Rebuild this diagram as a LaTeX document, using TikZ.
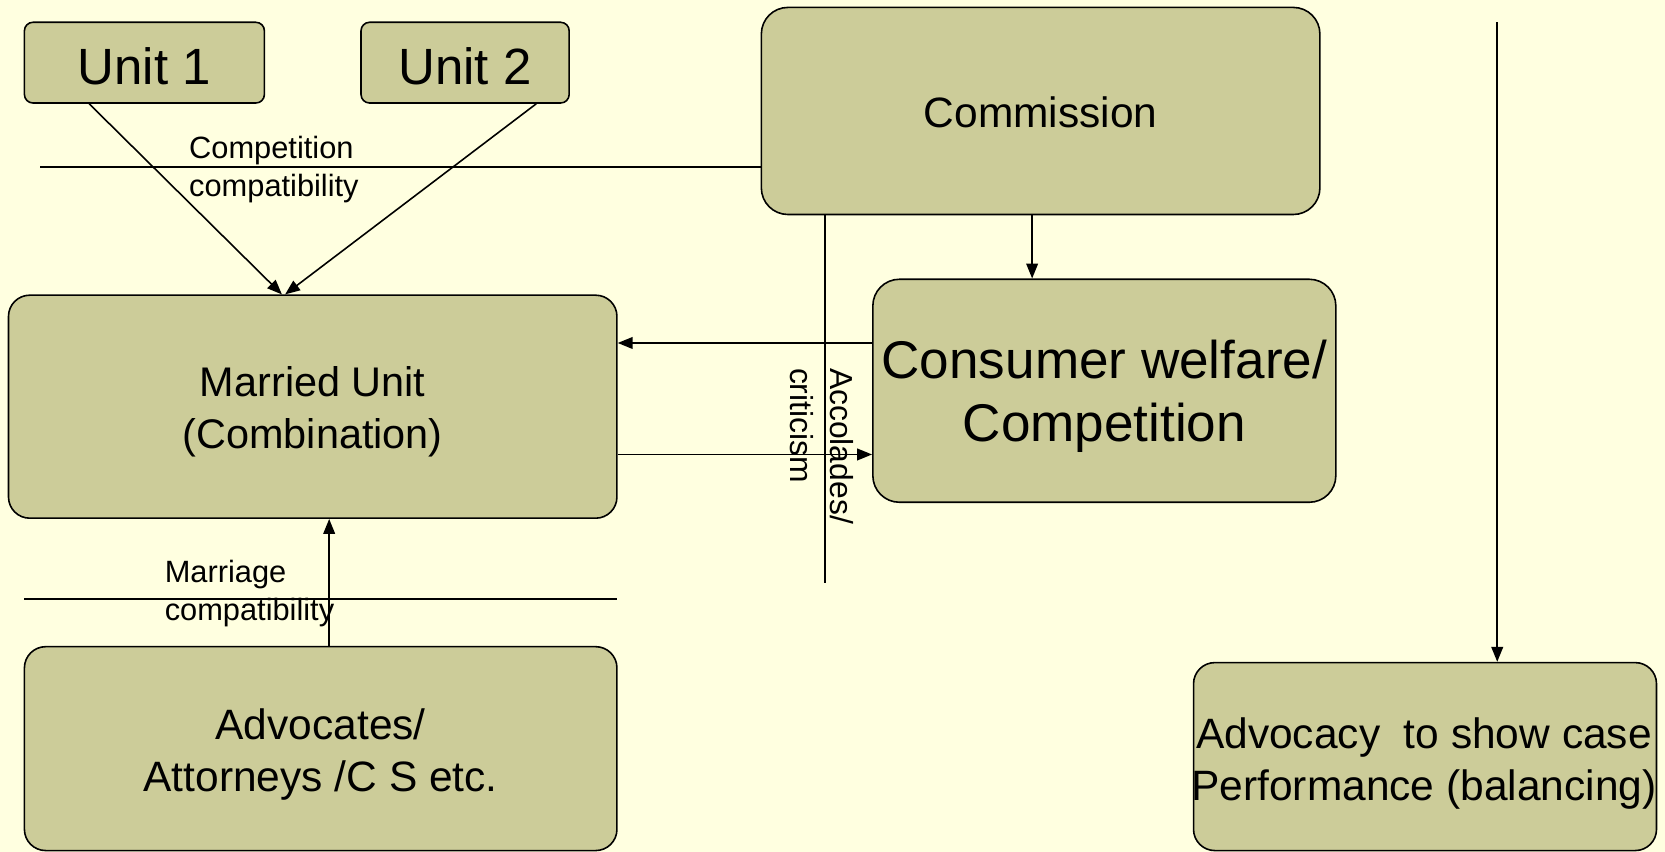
\documentclass[tikz,border=0pt]{standalone}
\usepackage{fontspec}
\setmainfont{Liberation Sans}
\usetikzlibrary{arrows.meta,calc}
\definecolor{bgc}{RGB}{255,255,224}
\definecolor{boxc}{RGB}{204,204,153}
\tikzset{
  box/.style={draw=black, line width=1.5pt, fill=boxc, inner sep=0pt},
  txt/.style={inner sep=0pt, align=center},
  arr/.style={line width=1.5pt, -{Triangle[length=14pt,width=11pt]}},
  ln/.style={line width=1.5pt},
  lbl/.style={inner sep=0pt, align=left, font=\fontsize{29}{36}\selectfont}
}
\begin{document}
\begin{tikzpicture}[x=1pt,y=-1pt]
\fill[bgc] (0,0) rectangle (1568,802);
\useasboundingbox (0,0) rectangle (1568,802);

\node[box, rounded corners=8pt, minimum width=226pt, minimum height=76pt] (u1) at (136,59) {};
\node[txt, font=\fontsize{48}{52}\selectfont] (u1t) at (136,62) {Unit 1};
\node[box, rounded corners=8pt, minimum width=196pt, minimum height=76pt] (u2) at (438,59) {};
\node[txt, font=\fontsize{48}{52}\selectfont] (u2t) at (438,62) {Unit 2};
\node[box, rounded corners=25pt, minimum width=526pt, minimum height=195pt] (comm) at (980,104.5) {};
\node[txt, font=\fontsize{40}{48}\selectfont] (commt) at (980,106) {Commission};
\node[box, rounded corners=20pt, minimum width=573pt, minimum height=210pt] (mu) at (294.5,383) {};
\node[txt, font=\fontsize{39}{49}\selectfont] (mut) at (294.5,388) {Married Unit\\(Combination)};
\node[box, rounded corners=25pt, minimum width=436pt, minimum height=210pt] (cons) at (1040,368) {};
\node[txt, font=\fontsize{50}{59}\selectfont] (const) at (1040,373) {Consumer welfare/\\Competition};
\node[box, rounded corners=20pt, minimum width=558pt, minimum height=192pt] (adv) at (302,705) {};
\node[txt, font=\fontsize{40}{49}\selectfont] (advt) at (302,711) {Advocates/\\Attorneys /C S etc.};
\node[box, rounded corners=20pt, minimum width=436pt, minimum height=177pt] (advc) at (1342,712.5) {};
\node[txt, font=\fontsize{40}{49}\selectfont] (advct) at (1341,719) {Advocacy \ to show case\\Performance (balancing)};

% labels
\node[lbl, anchor=west] (lc) at (178,160) {Competition\\compatibility};
\node[lbl, anchor=west] (lm) at (155,559) {Marriage\\compatibility};
\node[lbl, rotate=-90, font=\fontsize{30}{37}\selectfont] (lac) at (774,420) {Accolades/\\criticism};

% lines
\coordinate (cl) at (38,157);
\draw[ln] (cl) -- (cl -| comm.west);
\coordinate (ml) at (23,564);
\coordinate (mr) at (581,564);
\draw[ln] (ml) -- (mr);
\coordinate (vend) at (777,549);
\draw[ln] (comm.south -| vend) -- (vend);

% arrows
\draw[arr] ([xshift=-52pt]u1.south) -- ([xshift=-29pt]mu.north);
\draw[arr] ([xshift=67pt]u2.south) -- ([xshift=-26pt]mu.north);
\draw[arr] ([xshift=-8pt]comm.south) -- ([xshift=-8pt]comm.south |- cons.north);
\coordinate (r1) at (0,323);
\coordinate (r2) at (0,428);
\draw[arr] (cons.west |- r1) -- (mu.east |- r1);
\draw[arr] (mu.east |- r2) -- (cons.west |- r2);
\coordinate (xa) at (310,0);
\draw[arr] (adv.north -| xa) -- (mu.south -| xa);
\coordinate (rt) at (1410,21);
\draw[arr] (rt) -- (rt |- advc.north);
\end{tikzpicture}
\end{document}
